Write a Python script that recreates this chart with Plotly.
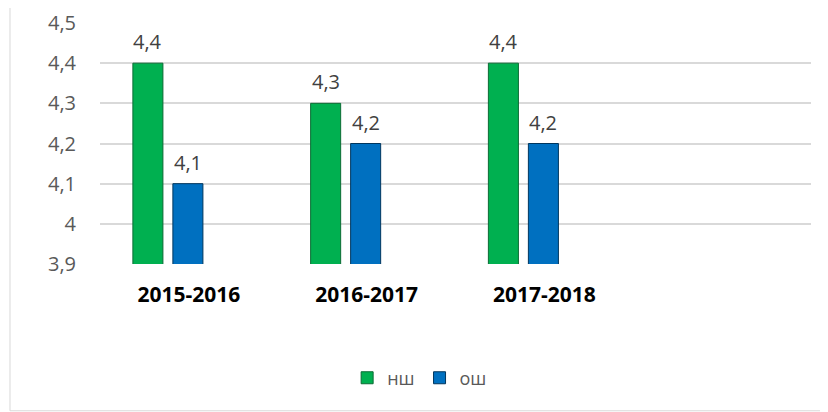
import plotly.graph_objects as go

categories = ["2015-2016", "2016-2017", "2017-2018"]
series_names = ["нш", "ош"]
ns_values = [4.4, 4.3, 4.4]
os_values = [4.1, 4.2, 4.2]
y_ticks = [3.9, 4.0, 4.1, 4.2, 4.3, 4.4, 4.5]

BAR_W = 0.169
OFFSETS = [-0.315, -0.09]
colors = ["#00B050", "#0070C0"]
edge = ["#0b6b34", "#00365e"]

fig = go.Figure()
for name, vals, off, c, e in zip(series_names, [ns_values, os_values], OFFSETS, colors, edge):
    fig.add_trace(go.Bar(
        x=categories, y=vals, name=name,
        width=BAR_W, offset=off,
        marker=dict(color=c, line=dict(color=e, width=1)),
    ))

annotations = []
for vals, off in zip([ns_values, os_values], OFFSETS):
    for i, v in enumerate(vals):
        annotations.append(dict(
            x=i + off + BAR_W / 2, y=v, xref="x", yref="y",
            text=f"{v:.1f}".replace(".", ","), showarrow=False,
            yanchor="bottom", yshift=6,
            font=dict(family="Open Sans", size=20, color="#404040"),
        ))

# chart-area border
border = [dict(
    type="rect", xref="paper", yref="paper",
    x0=-0.1266, x1=1.0225, y0=-0.609, y1=1.065,
    line=dict(color="#d9d9d9", width=1), fillcolor="rgba(0,0,0,0)", layer="below",
)]

fig.update_layout(
    width=820, height=404,
    margin=dict(l=92, r=17, t=15, b=148, autoexpand=False),
    paper_bgcolor="white", plot_bgcolor="white",
    separators=", ",
    barmode="group",
    showlegend=True,
    legend=dict(
        orientation="h", xref="container", yref="container",
        x=0.502, y=0.084, xanchor="center", yanchor="middle",
        font=dict(family="Open Sans", size=18, color="#595959"),
        traceorder="normal", itemwidth=30,
    ),
    annotations=annotations,
    shapes=border,
    xaxis=dict(
        type="category", categoryorder="array", categoryarray=categories,
        range=[-0.5, 3.5], automargin=False,
        showgrid=False, zeroline=False, showline=False, ticks="",
        tickfont=dict(family="Open Sans", size=21, color="#000000", weight="bold"),
        ticklabelstandoff=16,
    ),
    yaxis=dict(
        range=[3.9, 4.5], tickvals=y_ticks, automargin=False,
        showgrid=True, gridcolor="#d9d9d9", gridwidth=1.5,
        zeroline=False, showline=False, ticks="",
        tickfont=dict(family="Open Sans", size=20, color="#595959"),
        ticklabelstandoff=23,
    ),
)
fig.write_html("out.html")
